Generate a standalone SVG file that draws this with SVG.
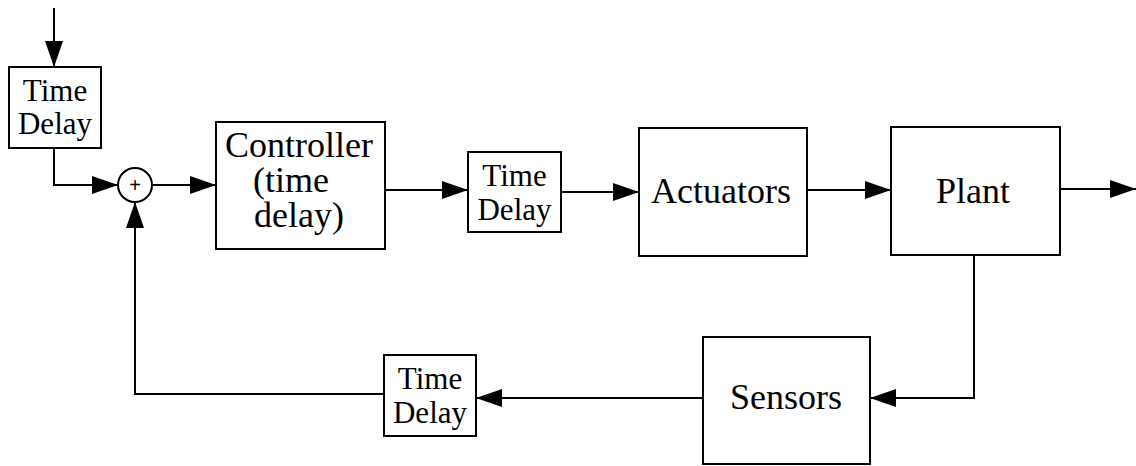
<svg xmlns="http://www.w3.org/2000/svg" width="1136" height="466" viewBox="0 0 1136 466">
  <style>
    .box { fill: #fff; stroke: #000; stroke-width: 2; }
    .wire { fill: none; stroke: #000; stroke-width: 2; }
    text { font-family: 'Liberation Serif', 'Times New Roman', 'DejaVu Serif', serif; fill: #000; text-anchor: middle; }
    .big { font-size: 36px; }
    .small { font-size: 31px; }
    .sum { font-family: 'Liberation Sans', Arial, sans-serif; font-size: 20px; }
  </style>
  <defs>
    <marker id="arrow" markerUnits="userSpaceOnUse" markerWidth="26" markerHeight="18" refX="26" refY="9" orient="auto">
      <path d="M0,0 L26,9 L0,18 Z" fill="#000"/>
    </marker>
  </defs>
  <rect width="1136" height="466" fill="#fff"/>

  <!-- connectors -->
  <g id="connectors">
    <line class="wire" x1="54" y1="8" x2="54" y2="67" marker-end="url(#arrow)"/>
    <polyline class="wire" points="54,148 54,185 118,185" marker-end="url(#arrow)"/>
    <line class="wire" x1="152" y1="185" x2="216" y2="185" marker-end="url(#arrow)"/>
    <line class="wire" x1="385" y1="190" x2="468" y2="190" marker-end="url(#arrow)"/>
    <line class="wire" x1="561" y1="192" x2="639" y2="192" marker-end="url(#arrow)"/>
    <line class="wire" x1="807" y1="190" x2="891" y2="190" marker-end="url(#arrow)"/>
    <line class="wire" x1="1060" y1="189" x2="1136" y2="189" marker-end="url(#arrow)"/>
    <polyline class="wire" points="974,255 974,398 870,398" marker-end="url(#arrow)"/>
    <line class="wire" x1="703" y1="398" x2="476" y2="398" marker-end="url(#arrow)"/>
    <polyline class="wire" points="384,394 135,394 135,202" marker-end="url(#arrow)"/>
  </g>

  <!-- input delay -->
  <g id="delay-input">
    <rect class="box" x="9" y="67" width="92" height="81"/>
    <text class="small" x="55" y="101" font-family="Liberation Serif, serif">Time</text>
    <text class="small" x="55" y="134" font-family="Liberation Serif, serif">Delay</text>
  </g>

  <!-- summing junction -->
  <g id="sum">
    <circle class="box" cx="135" cy="185" r="17"/>
    <text class="sum" x="135" y="192">+</text>
  </g>

  <g id="controller">
    <rect class="box" x="216" y="122" width="169" height="127"/>
    <text class="big" x="299" y="157" font-family="Liberation Serif, serif">Controller</text>
    <text class="big" x="291" y="192" font-family="Liberation Serif, serif">(time</text>
    <text class="big" x="299" y="227" font-family="Liberation Serif, serif">delay)</text>
  </g>

  <g id="delay-forward">
    <rect class="box" x="468" y="152" width="93" height="80"/>
    <text class="small" x="514.5" y="186" font-family="Liberation Serif, serif">Time</text>
    <text class="small" x="514.5" y="220" font-family="Liberation Serif, serif">Delay</text>
  </g>

  <g id="actuators">
    <rect class="box" x="639" y="128" width="168" height="128"/>
    <text class="big" x="721" y="203" font-family="Liberation Serif, serif">Actuators</text>
  </g>

  <g id="plant">
    <rect class="box" x="891" y="127" width="169" height="128"/>
    <text class="big" x="973" y="203" font-family="Liberation Serif, serif">Plant</text>
  </g>

  <g id="sensors">
    <rect class="box" x="703" y="337" width="167" height="127"/>
    <text class="big" x="786" y="409" font-family="Liberation Serif, serif">Sensors</text>
  </g>

  <g id="delay-feedback">
    <rect class="box" x="384" y="355" width="92" height="81"/>
    <text class="small" x="430" y="389" font-family="Liberation Serif, serif">Time</text>
    <text class="small" x="430" y="423" font-family="Liberation Serif, serif">Delay</text>
  </g>
</svg>
